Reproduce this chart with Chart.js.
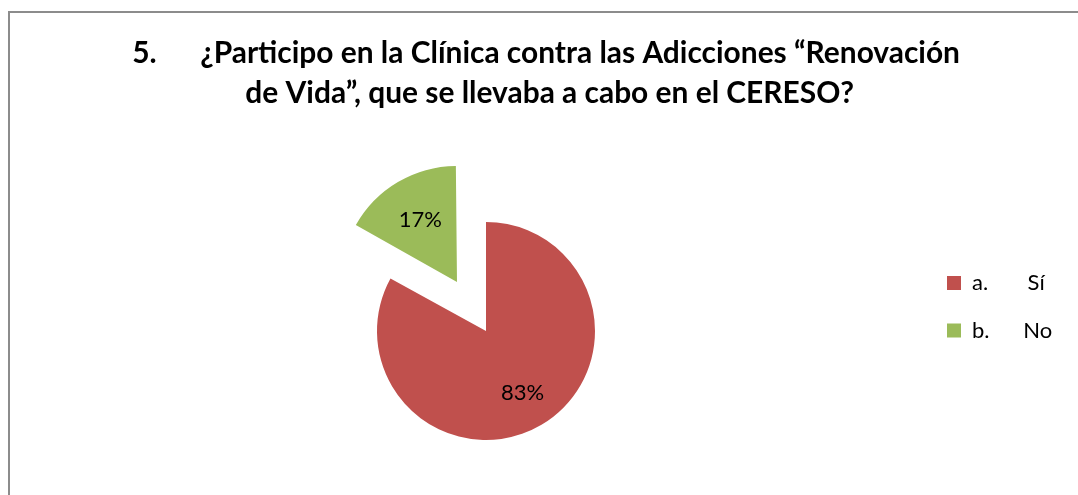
<!DOCTYPE html>
<html><head><meta charset="utf-8">
<script src="https://cdn.jsdelivr.net/npm/chart.js@4.4.1/dist/chart.umd.min.js"></script>
<style>
html,body{margin:0;padding:0;background:#fff;width:1078px;height:495px;overflow:hidden;}
#frame{position:absolute;left:8px;top:11px;width:1200px;height:700px;border-top:2px solid #8c8c8c;border-left:2px solid #8c8c8c;box-sizing:border-box;}
#wrap{position:absolute;left:0;top:0;width:1078px;height:495px;}
</style></head><body>
<div id="frame"></div>
<div id="wrap"><canvas id="c" width="1078" height="495"></canvas></div>
<script>
// ---- data ----
const TITLE_NUMBER = '5.';
const TITLE_LINE1 = '¿Participo en la Clínica contra las Adicciones “Renovación';
const TITLE_LINE2 = 'de Vida”, que se llevaba a cabo en el CERESO?';
const CATEGORY_KEYS = ['a.', 'b.'];
const CATEGORY_NAMES = ['Sí', 'No'];
const PERCENTS = [83, 17];
const COLORS = ['#C0504D', '#9BBB59'];
const EXPLODE = [0, 228];

// ---- styling helpers ----
const FONT = 'Lato';
const mctx = document.createElement('canvas').getContext('2d');
function textW(text, font) { mctx.font = font; return mctx.measureText(text).width; }
const titleSize = 100 * 760 / textW(TITLE_LINE1, 'bold 100px ' + FONT);
const titleFont = 'bold ' + titleSize + 'px ' + FONT;
const sp = textW(' ', titleFont);
const gapSpaces = Math.max(1, Math.round((202 - 134 - textW(TITLE_NUMBER, titleFont)) / sp));
const TITLE_CENTER = (50.5 + 1078) / 2;
function padTo(line, wantCenter) {
  const n = Math.max(0, Math.round(2 * (TITLE_CENTER - wantCenter) / sp));
  return line + ' '.repeat(n);
}
const titleLines = [
  padTo(TITLE_NUMBER + ' '.repeat(gapSpaces) + TITLE_LINE1, 547),
  padTo(TITLE_LINE2, 548.5)
];
const LEG_SIZE = 22;
const legFont = LEG_SIZE + 'px ' + FONT;
const lsp = textW(' ', legFont);
const legendLabels = CATEGORY_KEYS.map((k, i) => {
  const n = Math.max(1, Math.round((1024 - 971 - textW(k, legFont)) / lsp));
  return k + ' '.repeat(n) + CATEGORY_NAMES[i] + ' '.repeat(8);
});
const LABEL_POS = 0.66;

const pieLabels = {
  id: 'pieLabels',
  afterDatasetsDraw(chart) {
    const meta = chart.getDatasetMeta(0);
    const ctx = chart.ctx;
    ctx.save();
    ctx.font = '22px ' + FONT;
    ctx.fillStyle = '#000';
    ctx.textAlign = 'center';
    ctx.textBaseline = 'middle';
    meta.data.forEach((arc, i) => {
      const p = arc.getProps(['x', 'y', 'startAngle', 'endAngle', 'outerRadius'], true);
      const mid = (p.startAngle + p.endAngle) / 2;
      const shift = (arc.options.offset || 0) / 4;
      const r = p.outerRadius * LABEL_POS + shift;
      ctx.fillText(PERCENTS[i] + '%', p.x + Math.cos(mid) * r, p.y + Math.sin(mid) * r);
    });
    ctx.restore();
  }
};

new Chart(document.getElementById('c'), {
  type: 'pie',
  data: {
    labels: legendLabels,
    datasets: [{
      data: PERCENTS,
      backgroundColor: COLORS,
      borderWidth: 0,
      offset: EXPLODE,
      hoverOffset: 0,
      radius: 109,
      clip: false
    }]
  },
  options: {
    responsive: false,
    animation: false,
    events: [],
    cutout: '0%',
    layout: { padding: { top: 0, left: 50.5, right: 0, bottom: 79.5 } },
    plugins: {
      title: {
        display: true,
        text: titleLines,
        color: '#000',
        font: { family: FONT, size: titleSize, weight: 'bold', lineHeight: '40px' },
        padding: { top: 33, bottom: 133.5 }
      },
      legend: {
        display: true,
        position: 'right',
        align: 'start',
        fullSize: false,
        maxWidth: 156.5,
        labels: {
          boxWidth: 14,
          boxHeight: 14,
          padding: 25.5,
          color: '#000',
          font: { family: FONT, size: LEG_SIZE }
        }
      },
      tooltip: { enabled: false }
    }
  },
  plugins: [pieLabels]
});
</script>
</body></html>
